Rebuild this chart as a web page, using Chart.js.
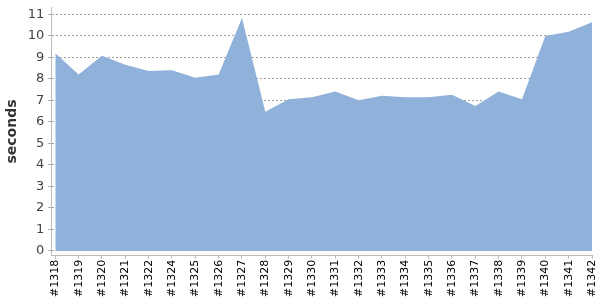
<!DOCTYPE html>
<html>
<head>
<meta charset="utf-8">
<script src="https://cdn.jsdelivr.net/npm/chart.js@4"></script>
<style>
  html, body { margin: 0; padding: 0; background: #fff; }
  #wrap { width: 600px; height: 300px; }
</style>
</head>
<body>
<div id="wrap"><canvas id="buildChart"></canvas></div>
<script>
// build numbers along the x axis (note: no #1323)
const builds = ['#1318', '#1319', '#1320', '#1321', '#1322', '#1324', '#1325', '#1326',
    '#1327', '#1328', '#1329', '#1330', '#1331', '#1332', '#1333', '#1334', '#1335',
    '#1336', '#1337', '#1338', '#1339', '#1340', '#1341', '#1342'];

// duration per build, in seconds
const durations = [9.19, 8.2, 9.07, 8.66, 8.37, 8.4, 8.05, 8.2, 10.83, 6.47, 7.05, 7.14,
    7.41, 7.0, 7.22, 7.14, 7.14, 7.26, 6.74, 7.41, 7.05, 9.99, 10.19, 10.63];

const yTicks = [0, 1, 2, 3, 4, 5, 6, 7, 8, 9, 10, 11];

const points = durations.map((v, i) => ({ x: i, y: v }));

new Chart(document.getElementById('buildChart'), {
    type: 'line',
    data: {
        datasets: [{
            label: 'seconds',
            data: points,
            fill: 'origin',
            backgroundColor: '#8fb1da',
            borderColor: '#8fb1da',
            borderWidth: 0,
            pointRadius: 0,
            tension: 0
        }]
    },
    options: {
        responsive: true,
        maintainAspectRatio: false,
        animation: false,
        layout: { padding: { top: 4, right: 8, left: 0, bottom: 2 } },
        plugins: {
            legend: { display: false },
            tooltip: { enabled: false }
        },
        scales: {
            x: {
                type: 'linear',
                min: -0.17,
                max: builds.length - 1,
                afterBuildTicks: scale => {
                    scale.ticks = builds.map((b, i) => ({ value: i }));
                },
                ticks: {
                    autoSkip: false,
                    minRotation: 90,
                    maxRotation: 90,
                    padding: 1,
                    color: '#000',
                    font: { family: 'DejaVu Sans', size: 11, lineHeight: 0.6 },
                    callback: v => builds[v]
                },
                grid: { drawOnChartArea: false, drawTicks: true, tickLength: 3, color: '#bbb' },
                border: { color: '#bbb', width: 1 }
            },
            y: {
                min: -0.228,
                max: 11.33,
                z: 1,
                afterBuildTicks: scale => {
                    scale.ticks = yTicks.map(v => ({ value: v }));
                },
                ticks: {
                    padding: 4,
                    color: '#444',
                    font: { family: 'DejaVu Sans', size: 13, lineHeight: 0.5 }
                },
                grid: { color: '#a0a0a0', tickLength: 3, lineWidth: 1 },
                border: { color: '#bbb', width: 1, dash: [2, 2] },
                title: {
                    display: true,
                    text: 'seconds',
                    color: '#333',
                    padding: { top: 4, bottom: 3 },
                    font: { family: 'DejaVu Sans', size: 14, weight: 'bold' }
                }
            }
        }
    }
});
</script>
</body>
</html>
